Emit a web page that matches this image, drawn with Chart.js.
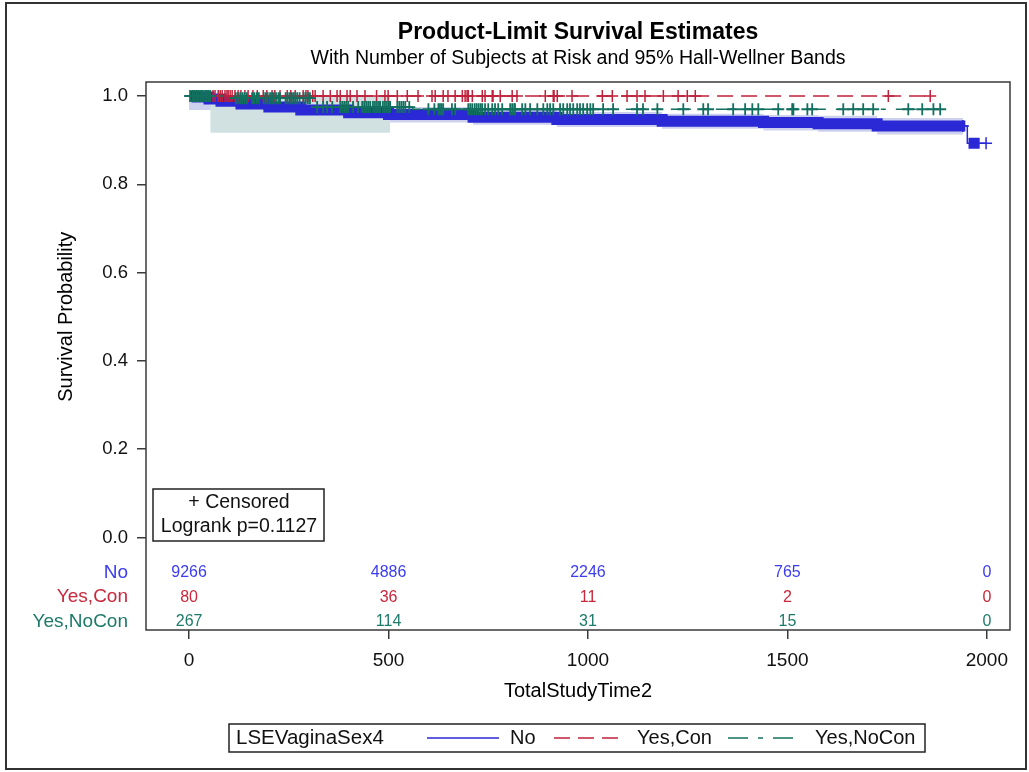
<!DOCTYPE html>
<html>
<head>
<meta charset="utf-8">
<script src="https://cdn.jsdelivr.net/npm/chart.js@4.4.1/dist/chart.umd.min.js"></script>
<style>
  html, body { margin: 0; padding: 0; background: #fff; }
</style>
</head>
<body>
<canvas id="km" width="1029" height="772"></canvas>
<script>
// Survival curves: step times and survival after each step
const noTimes = [0, 20, 50, 80, 130, 200, 280, 400, 500, 712, 922, 1186, 1440, 1577, 1725, 1951, 1998];
const noSurv  = [1.0, 0.998, 0.993, 0.988, 0.982, 0.975, 0.968, 0.962, 0.958, 0.952, 0.947, 0.943, 0.940, 0.937, 0.932, 0.893, 0.893];
const conTimes = [0, 1858];
const conSurv  = [1.0, 1.0];
const noConTimes = [0, 115, 310, 560, 1883];
const noConSurv  = [1.0, 0.995, 0.975, 0.970, 0.970];

// Censored times. "No" has thousands of them, drawn as a solid bar over these spans
const noDenseSpans = [[3, 1946], [1954, 1982]];
const noCensored = [3, 1940, 1998];
const conCensored = [20, 35, 45, 60, 65, 73, 78, 83, 90, 95, 98, 103, 108, 115, 123, 130, 140, 148, 160, 171,
  186, 195, 208, 215, 228, 246, 255, 266, 286, 293, 298, 310, 316, 336, 354, 371, 379, 396, 404, 421, 441,
  470, 491, 499, 522, 547, 574, 609, 617, 637, 649, 667, 685, 692, 697, 700, 710, 735, 742, 760, 762, 780,
  810, 822, 893, 913, 915, 923, 960, 1036, 1061, 1098, 1123, 1143, 1189, 1226, 1249, 1269, 1753, 1858];
const noConCensored = [3, 9, 13, 18, 24, 29, 33, 40, 44, 49, 53, 117, 122, 128, 134, 139, 145, 158, 163, 169,
  175, 187, 192, 197, 203, 208, 212, 218, 224, 228, 242, 247, 252, 257, 261, 266, 271, 277, 287, 292, 298,
  303, 321, 336, 346, 359, 379, 384, 389, 394, 399, 411, 424, 434, 439, 444, 449, 454, 461, 466, 471, 476,
  479, 486, 491, 496, 501, 504, 522, 527, 532, 537, 542, 552, 600, 615, 625, 629, 633, 637, 659, 667, 700,
  705, 710, 716, 721, 726, 731, 735, 742, 750, 760, 767, 775, 785, 805, 810, 815, 817, 835, 843, 855, 873,
  888, 898, 905, 913, 930, 938, 948, 955, 963, 973, 980, 988, 998, 1006, 1013, 1038, 1063, 1123, 1138, 1174,
  1239, 1289, 1301, 1364, 1394, 1412, 1427, 1477, 1512, 1515, 1550, 1562, 1640, 1665, 1690, 1715, 1803,
  1838, 1866, 1883];

// 95% Hall-Wellner bands
const noBandTimes = [0, 80, 130, 200, 280, 400, 500, 712, 922, 1186, 1440, 1577, 1725, 1940];
const noBandLower = [0.968, 0.962, 0.960, 0.956, 0.950, 0.944, 0.940, 0.935, 0.930, 0.926, 0.922, 0.919, 0.913, 0.913];
const noBandUpper = [1.0, 1.0, 1.0, 0.993, 0.986, 0.980, 0.975, 0.969, 0.964, 0.960, 0.957, 0.955, 0.950, 0.950];
const noConBandTimes = [53, 504];
const noConBandLower = [0.917, 0.917];
const noConBandUpper = [1.0, 1.0];

// Number at risk table
const riskTimes = [0, 500, 1000, 1500, 2000];
const groups = ['No', 'Yes,Con', 'Yes,NoCon'];
const riskNo = [9266, 4886, 2246, 765, 0];
const riskCon = [80, 36, 11, 2, 0];
const riskNoCon = [267, 114, 31, 15, 0];

const xTicks = [0, 500, 1000, 1500, 2000];
const yTicks = [0, 0.2, 0.4, 0.6, 0.8, 1.0];

const BLUE = '#2b28d6', RED = '#c0213b', GREEN = '#13705f';
const BLUE_TXT = '#3c3cf0', RED_TXT = '#c8283c', GREEN_TXT = '#1d7a69';
const FONT = '"Liberation Sans", Arial, sans-serif';

const pts = (ts, ys) => ts.map((t, i) => ({ x: t, y: ys[i] }));
function stepAt(ts, ys, t) {
  let v = ys[0];
  for (let i = 0; i < ts.length; i++) if (ts[i] <= t) v = ys[i];
  return v;
}
const censorPts = (cs, ts, ys) => cs.map(t => ({ x: t, y: stepAt(ts, ys, t) }));

// solid bar where the censor marks of "No" overlap
const noDense = [];
noDenseSpans.forEach((s, k) => {
  if (k > 0) noDense.push({ x: s[0] - 1, y: null });
  noDense.push({ x: s[0], y: stepAt(noTimes, noSurv, s[0]) });
  noTimes.forEach((t, i) => { if (t > s[0] && t < s[1]) noDense.push({ x: t, y: noSurv[i] }); });
  noDense.push({ x: s[1], y: stepAt(noTimes, noSurv, s[1]) });
});

const line = (data, color, width, dash, order) => ({
  data, borderColor: color, borderWidth: width, borderDash: dash, stepped: true,
  pointRadius: 0, fill: false, order, borderCapStyle: 'butt'
});
const marks = (data, color, bw, order) => ({
  data, showLine: false, pointStyle: 'cross', pointRadius: 6, pointBorderWidth: bw,
  borderColor: color, backgroundColor: color, order
});

const decor = {
  id: 'decor',
  beforeDraw(chart) {
    const ctx = chart.ctx;
    ctx.save();
    ctx.fillStyle = '#fff';
    ctx.fillRect(0, 0, chart.width, chart.height);
    ctx.restore();
  },
  afterDraw(chart) {
    const { ctx, chartArea: a, scales: { x, y } } = chart;
    ctx.save();
    // plot frame and outer border
    ctx.strokeStyle = '#3a3a3a';
    ctx.lineWidth = 1.5;
    ctx.strokeRect(a.left, a.top, a.right - a.left, a.bottom - a.top);
    ctx.lineWidth = 2;
    ctx.strokeStyle = '#333';
    ctx.strokeRect(6, 3, 1020, 766);

    const cx = (a.left + a.right) / 2;
    ctx.fillStyle = '#000';
    ctx.textAlign = 'center';
    ctx.textBaseline = 'middle';
    ctx.font = 'bold 23px ' + FONT;
    ctx.fillText('Product-Limit Survival Estimates', cx, 33);
    ctx.font = '19.5px ' + FONT;
    ctx.fillText('With Number of Subjects at Risk and 95% Hall-Wellner Bands', cx, 59);

    // axis titles
    ctx.font = '20px ' + FONT;
    ctx.fillText('TotalStudyTime2', cx, 691);
    ctx.save();
    ctx.translate(66, (y.getPixelForValue(0) + y.getPixelForValue(1)) / 2);
    ctx.rotate(-Math.PI / 2);
    ctx.fillText('Survival Probability', 0, 0);
    ctx.restore();

    // at-risk table
    const rows = [[riskNo, BLUE_TXT], [riskCon, RED_TXT], [riskNoCon, GREEN_TXT]];
    const rowY = [-0.080, -0.135, -0.191];
    rows.forEach((r, i) => {
      const py = y.getPixelForValue(rowY[i]);
      ctx.fillStyle = r[1];
      ctx.font = '19px ' + FONT;
      ctx.textAlign = 'right';
      ctx.fillText(groups[i], 128, py);
      ctx.font = '16px ' + FONT;
      ctx.textAlign = 'center';
      r[0].forEach((n, j) => ctx.fillText(String(n), x.getPixelForValue(riskTimes[j]), py));
    });

    // inset box
    ctx.fillStyle = '#fff';
    ctx.fillRect(153, 489, 171, 52);
    ctx.strokeStyle = '#222';
    ctx.lineWidth = 1.5;
    ctx.strokeRect(153, 489, 171, 52);
    ctx.fillStyle = '#111';
    ctx.font = '19.5px ' + FONT;
    ctx.textAlign = 'center';
    ctx.fillText('+ Censored', 239, 503);
    ctx.fillText('Logrank p=0.1127', 239, 527);

    // legend
    ctx.strokeStyle = '#222';
    ctx.lineWidth = 1.5;
    ctx.strokeRect(229, 724, 696, 28);
    ctx.font = '20.5px ' + FONT;
    ctx.textAlign = 'left';
    ctx.fillStyle = '#111';
    const ly = 738;
    ctx.fillText('LSEVaginaSex4', 236, ly);
    ctx.font = '20px ' + FONT;
    const items = [
      [BLUE, [], 427, 'No', 510],
      [RED, [16, 8], 554, 'Yes,Con', 637],
      [GREEN, [20, 10, 5, 10], 728, 'Yes,NoCon', 815]
    ];
    items.forEach(it => {
      ctx.strokeStyle = it[0];
      ctx.lineWidth = 1.5;
      ctx.setLineDash(it[1]);
      ctx.beginPath();
      ctx.moveTo(it[2], ly);
      ctx.lineTo(it[2] + 72, ly);
      ctx.stroke();
      ctx.setLineDash([]);
      ctx.fillStyle = '#111';
      ctx.fillText(it[3], it[4], ly);
    });
    ctx.restore();
  }
};

new Chart(document.getElementById('km'), {
  type: 'line',
  data: {
    datasets: [
      { data: pts(noBandTimes, noBandUpper), stepped: true, borderWidth: 0, pointRadius: 0, fill: false, order: 30 },
      { data: pts(noBandTimes, noBandLower), stepped: true, borderWidth: 0, pointRadius: 0, fill: '-1',
        backgroundColor: '#ced1ee', order: 30 },
      { data: pts(noConBandTimes, noConBandUpper), stepped: true, borderWidth: 0, pointRadius: 0, fill: false, order: 25 },
      { data: pts(noConBandTimes, noConBandLower), stepped: true, borderWidth: 0, pointRadius: 0, fill: '-1',
        backgroundColor: '#d1e1e2', order: 25 },
      line(noDense, BLUE, 11, [], 12),
      line(pts(noTimes, noSurv), BLUE, 1.5, [], 11),
      marks(censorPts(noCensored, noTimes, noSurv), BLUE, 1.5, 10),
      line(pts(conTimes, conSurv), RED, 1.5, [16, 8], 6),
      marks(censorPts(conCensored, conTimes, conSurv), RED, 1.5, 5),
      line(pts(noConTimes, noConSurv), GREEN, 1.5, [20, 10, 5, 10], 2),
      marks(censorPts(noConCensored, noConTimes, noConSurv), GREEN, 1.8, 1)
    ]
  },
  options: {
    responsive: false,
    animation: false,
    devicePixelRatio: 1,
    layout: { padding: { top: 82, right: 19, left: 0, bottom: 0 } },
    plugins: { legend: { display: false }, title: { display: false }, tooltip: { enabled: false } },
    scales: {
      x: {
        type: 'linear', min: -108, max: 2058,
        afterBuildTicks: s => { s.ticks = xTicks.map(v => ({ value: v })); },
        afterFit: s => { s.height = 142; },
        border: { display: false },
        grid: { drawOnChartArea: false, drawTicks: true, tickLength: 9, color: '#3a3a3a', lineWidth: 1.5 },
        ticks: { color: '#111', padding: 10, maxRotation: 0, font: { family: FONT, size: 19 }, callback: v => String(v) }
      },
      y: {
        type: 'linear', min: -0.2095, max: 1.0317,
        afterBuildTicks: s => { s.ticks = yTicks.map(v => ({ value: v })); },
        afterFit: s => { s.width = 146; },
        border: { display: false },
        grid: { drawOnChartArea: false, drawTicks: true, tickLength: 9, color: '#3a3a3a', lineWidth: 1.5 },
        ticks: { color: '#111', padding: 9, font: { family: FONT, size: 18.5 }, callback: v => v.toFixed(1) }
      }
    }
  },
  plugins: [decor]
});
</script>
</body>
</html>
